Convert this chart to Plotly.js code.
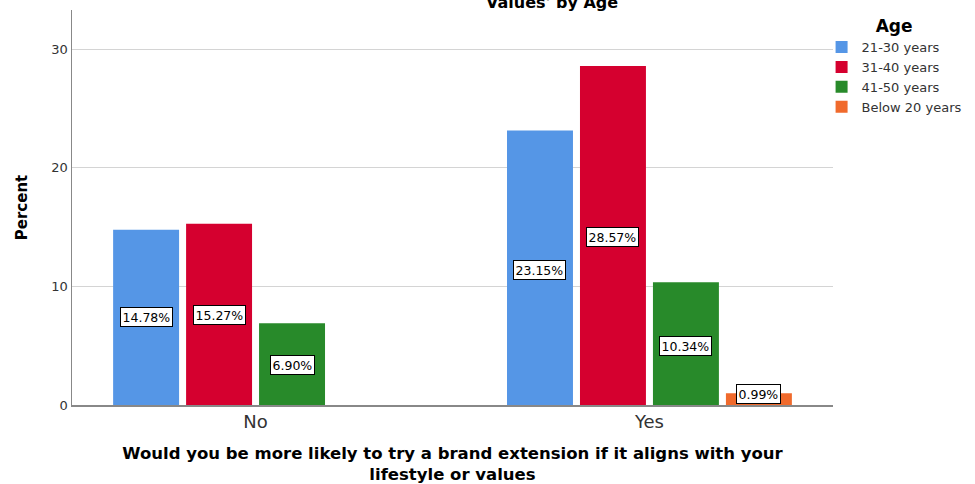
<!DOCTYPE html>
<html>
<head>
<meta charset="utf-8">
<script src="https://cdn.plot.ly/plotly-3.0.1.min.js"></script>
<style>html,body{margin:0;padding:0;background:#fff;}#chart{width:975px;height:484px;}</style>
</head>
<body>
<div id="chart"></div>
<script>
const categories = ["No", "Yes"];
const seriesNames = ["21-30 years", "31-40 years", "41-50 years", "Below 20 years"];
const v2130 = [14.78, 23.15];
const v3140 = [15.27, 28.57];
const v4150 = [6.90, 10.34];
const vBelow20 = [null, 0.99];
const seriesColors = ["#5596E6", "#D5002F", "#288A2A", "#F06A2C"];
const labelY = [[7.4, 11.4], [7.6, 14.2], [3.4, 5.0], [null, 0.9]];

const allSeries = [v2130, v3140, v4150, vBelow20];
const bargap = 0.259;
const groupWidth = 1 - bargap;
const slot = groupWidth / allSeries.length;
const FONT = "DejaVu Sans, Liberation Sans, Arial, sans-serif";

const traces = allSeries.map((vals, i) => ({
  type: "bar",
  name: seriesNames[i],
  x: categories,
  y: vals,
  marker: {color: seriesColors[i], line: {width: 0}},
  hoverinfo: "none"
}));

const annotations = [];
allSeries.forEach((vals, i) => {
  vals.forEach((v, j) => {
    if (v === null) return;
    annotations.push({
      x: j - groupWidth / 2 + slot * (i + 0.5),
      y: labelY[i][j],
      xref: "x", yref: "y",
      text: v.toFixed(2) + "%",
      showarrow: false,
      font: {family: FONT, size: 12.5, color: "#000"},
      bgcolor: "#ffffff",
      bordercolor: "#000000",
      borderwidth: 1,
      borderpad: 1.5
    });
  });
});
annotations.push({
  x: 0.631, y: 1.02, xref: "paper", yref: "paper",
  text: "<b>Values' by Age</b>", showarrow: false,
  font: {family: FONT, size: 16, color: "#000"},
  yanchor: "middle"
});

const layout = {
  width: 975, height: 484,
  margin: {l: 72, r: 142, t: 10, b: 79, autoexpand: false},
  paper_bgcolor: "#fff", plot_bgcolor: "#fff",
  barmode: "group",
  bargap: bargap,
  bargroupgap: 0.096,
  font: {family: FONT, color: "#222"},
  xaxis: {
    type: "category",
    range: [-0.466, 1.466],
    showline: true, linecolor: "#888", linewidth: 1.5,
    ticks: "", showgrid: false, zeroline: false,
    tickfont: {size: 18, color: "#333"},
    title: {text: "<b>Would you be more likely to try a brand extension if it aligns with your<br>lifestyle or values</b>",
            font: {family: FONT, size: 16.5, color: "#000"}, standoff: 18}
  },
  yaxis: {
    range: [0, 33.3],
    tickvals: [0, 10, 20, 30],
    showline: true, linecolor: "#888", linewidth: 1.5,
    showgrid: true, gridcolor: "#d4d4d4", gridwidth: 1,
    zeroline: false, ticks: "",
    tickfont: {size: 13, color: "#333"},
    title: {text: "<b>Percent</b>", font: {family: FONT, size: 15, color: "#000"}, standoff: 20}
  },
  legend: {
    x: 0.985, y: 1.0, xanchor: "left", yanchor: "top",
    font: {family: FONT, size: 13, color: "#333"},
    title: {text: "<b>Age</b>", font: {family: FONT, size: 17, color: "#000"}, side: "top center"},
    itemwidth: 30,
    tracegroupgap: 0,
    bgcolor: "rgba(0,0,0,0)"
  },
  annotations: annotations,
  showlegend: true
};

Plotly.newPlot("chart", traces, layout, {displayModeBar: false, staticPlot: true});
</script>
</body>
</html>
